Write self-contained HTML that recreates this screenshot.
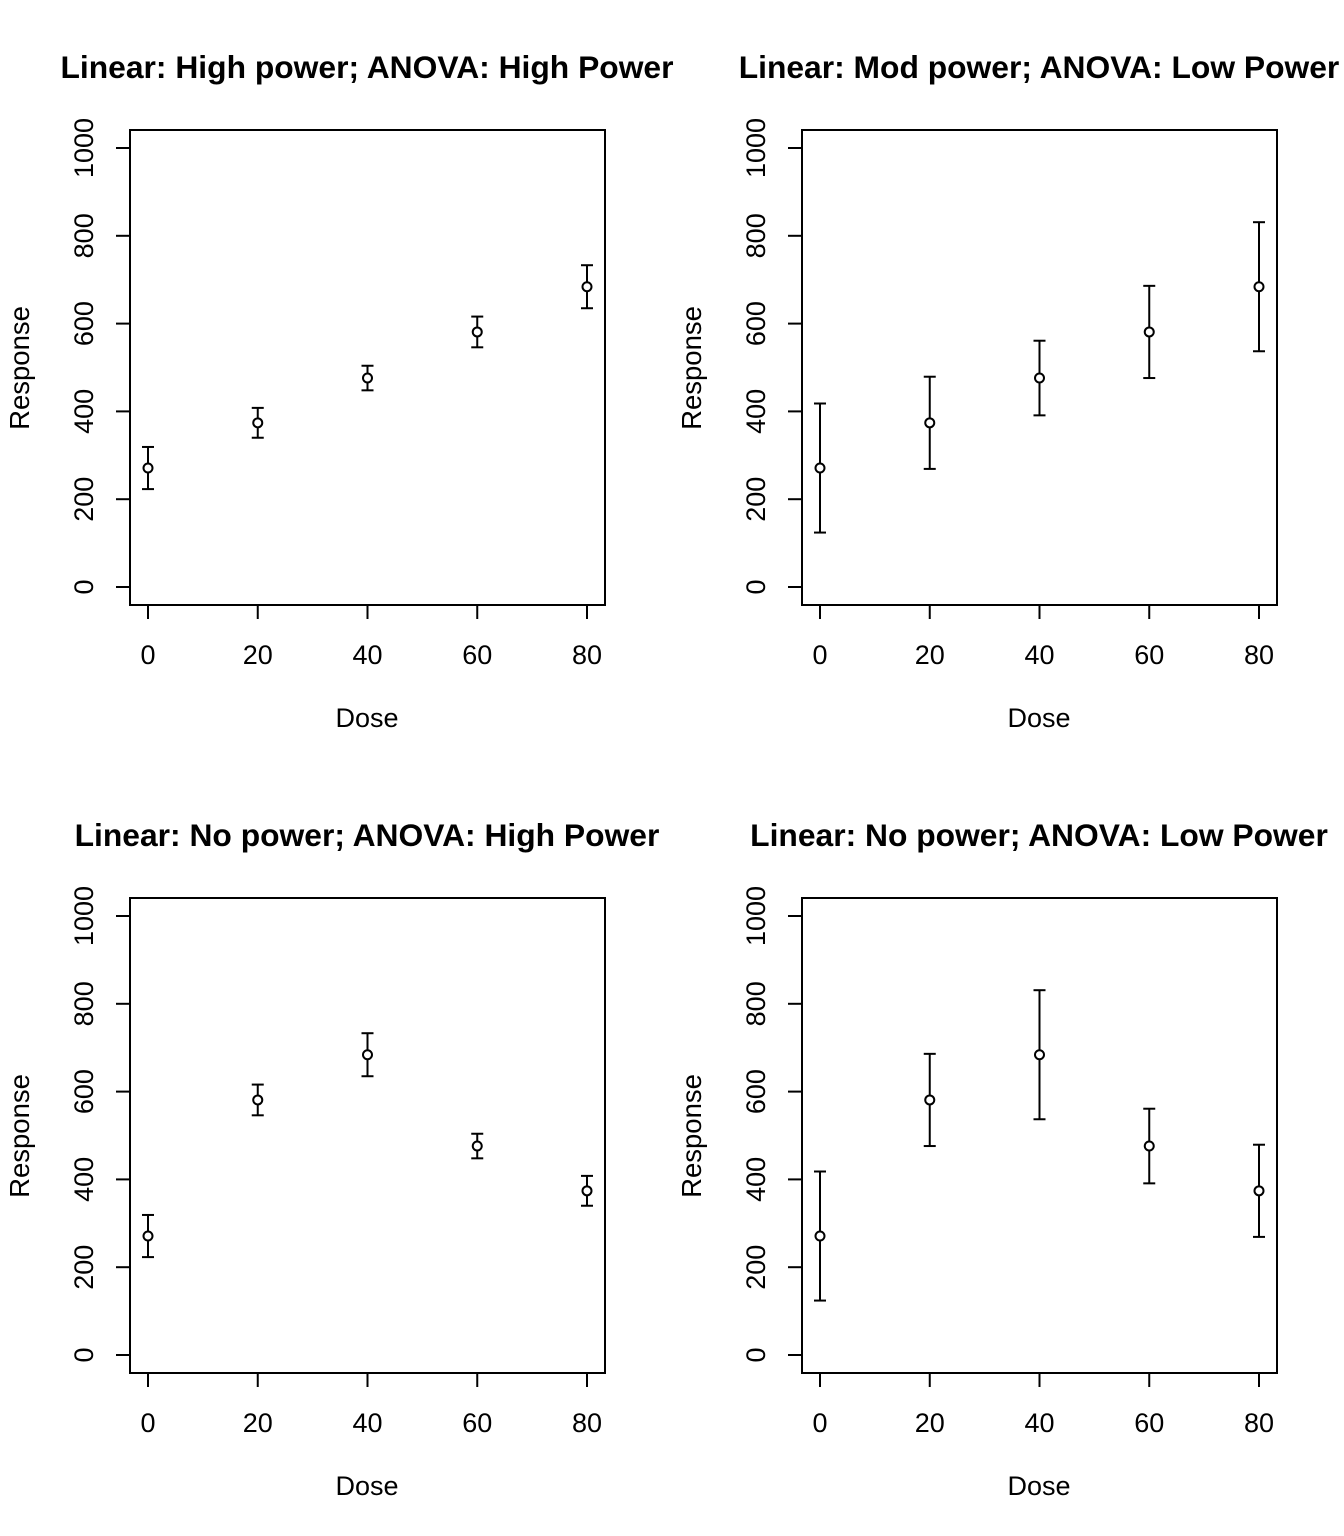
<!DOCTYPE html>
<html><head><meta charset="utf-8"><style>
html,body{margin:0;padding:0;background:#fff}
svg{display:block;font-family:"Liberation Sans",Arial,sans-serif}
</style></head><body>
<svg id="chart" width="1344" height="1536"></svg>
<script>
const doses = [0, 20, 40, 60, 80];
const meansA = [271, 374, 476, 581, 684];
const meansB = [271, 581, 684, 476, 374];
const errHighA = [48, 34, 28, 35, 49];
const errLowA = [147, 105, 85, 105, 147];
const errHighB = [48, 35, 49, 28, 34];
const errLowB = [147, 105, 147, 85, 105];
const xTicks = [0, 20, 40, 60, 80];
const yTicks = [0, 200, 400, 600, 800, 1000];
const titles = ["Linear: High power; ANOVA: High Power","Linear: Mod power; ANOVA: Low Power","Linear: No power; ANOVA: High Power","Linear: No power; ANOVA: Low Power"];

const NS="http://www.w3.org/2000/svg";
const svg=document.getElementById('chart');
function mk(tag,attrs,parent,text){const e=document.createElementNS(NS,tag);for(const k in attrs)e.setAttribute(k,attrs[k]);if(text!==undefined)e.textContent=text;parent.appendChild(e);return e;}
const panels=[
 {ox:0,oy:0,m:meansA,e:errHighA},
 {ox:672,oy:0,m:meansA,e:errLowA},
 {ox:0,oy:768,m:meansB,e:errHighB},
 {ox:672,oy:768,m:meansB,e:errLowB}];
panels.forEach((p,i)=>{
 const g=mk('g',{},svg);
 
 
 const X=v=>p.ox+148+(v/80)*439;
 const Y=v=>p.oy+587-(v/1000)*439;
 const t=mk('text',{x:p.ox+367,y:p.oy+78,'text-anchor':'middle','font-size':31.8,'font-weight':'bold'},g,titles[i]);
 
 
 const box=mk('rect',{x:p.ox+130,y:p.oy+130,width:475,height:475,fill:'none',stroke:'#000','stroke-width':2},g);
 
 
 mk('line',{x1:X(0),x2:X(80),y1:p.oy+605,y2:p.oy+605,stroke:'#000','stroke-width':2},g);
 xTicks.forEach(v=>{
  mk('line',{x1:X(v),x2:X(v),y1:p.oy+605,y2:p.oy+619,stroke:'#000','stroke-width':2},g);
  const l=mk('text',{x:X(v),y:p.oy+664,'text-anchor':'middle','font-size':27},g,String(v));
  
  
 });
 mk('line',{x1:p.ox+130,x2:p.ox+130,y1:Y(0),y2:Y(1000),stroke:'#000','stroke-width':2},g);
 yTicks.forEach(v=>{
  mk('line',{x1:p.ox+116,x2:p.ox+130,y1:Y(v),y2:Y(v),stroke:'#000','stroke-width':2},g);
  const l=mk('text',{x:0,y:0,'text-anchor':'middle','font-size':27,transform:`translate(${p.ox+93},${Y(v)}) rotate(-90)`},g,String(v));
  
  
 });
 const xt=mk('text',{x:p.ox+367,y:p.oy+727,'text-anchor':'middle','font-size':27},g,'Dose');
 
 
 const yt=mk('text',{x:0,y:0,'text-anchor':'middle','font-size':27.5,transform:`translate(${p.ox+29},${p.oy+368}) rotate(-90)`},g,'Response');
 
 
 doses.forEach((d,j)=>{
  const x=X(d),m=p.m[j],e=p.e[j];
  const eb=mk('g',{stroke:'#000','stroke-width':2,fill:'none'},g);
  
  
  mk('line',{x1:x,x2:x,y1:Y(m+e),y2:Y(m-e)},eb);
  mk('line',{x1:x-6,x2:x+6,y1:Y(m+e),y2:Y(m+e)},eb);
  mk('line',{x1:x-6,x2:x+6,y1:Y(m-e),y2:Y(m-e)},eb);
  const c=mk('circle',{cx:x,cy:Y(m),r:4.5,fill:'#fff',stroke:'#000','stroke-width':2},g);
  
  
 });
});
</script>
</body></html>
